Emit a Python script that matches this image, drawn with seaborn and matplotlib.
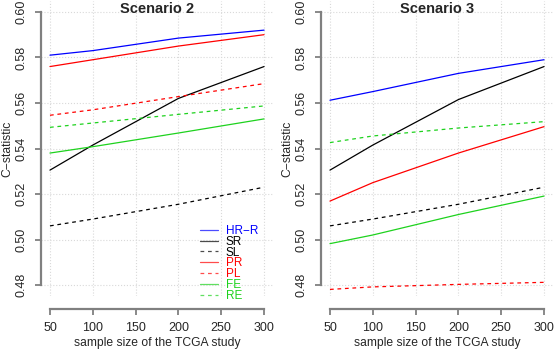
import matplotlib
matplotlib.use("Agg")
from matplotlib import pyplot as plt
import pandas as pd
import seaborn as sns

# sample sizes of the TCGA study
sizes = [50, 100, 200, 300]

# Scenario 2
s2_hrr = [0.581, 0.583, 0.5885, 0.592]
s2_sr = [0.5305, 0.5415, 0.562, 0.576]
s2_sl = [0.506, 0.509, 0.5155, 0.523]
s2_pr = [0.576, 0.579, 0.585, 0.590]
s2_pl = [0.5546, 0.557, 0.5628, 0.5685]
s2_fe = [0.538, 0.5408, 0.5468, 0.553]
s2_re = [0.5493, 0.5512, 0.555, 0.5587]

# Scenario 3
s3_hrr = [0.5612, 0.565, 0.573, 0.579]
s3_sr = [0.5305, 0.5415, 0.5615, 0.576]
s3_sl = [0.506, 0.509, 0.5155, 0.523]
s3_pr = [0.5169, 0.525, 0.538, 0.5496]
s3_pl = [0.4781, 0.4792, 0.4803, 0.4812]
s3_fe = [0.4982, 0.502, 0.511, 0.5191]
s3_re = [0.5426, 0.5455, 0.549, 0.5518]

labels = ["HR\u2212R", "SR", "SL", "PR", "PL", "FE", "RE"]
colors = ["#0000FF", "#000000", "#000000", "#FF0000", "#FF0000", "#1ED21E", "#1ED21E"]
dashed = [False, False, True, False, True, False, True]

yticks = [0.48, 0.50, 0.52, 0.54, 0.56, 0.58, 0.60]
xticks = [50, 100, 150, 200, 250, 300]

scenarios = {
    "Scenario 2": [s2_hrr, s2_sr, s2_sl, s2_pr, s2_pl, s2_fe, s2_re],
    "Scenario 3": [s3_hrr, s3_sr, s3_sl, s3_pr, s3_pl, s3_fe, s3_re],
}

sns.set_style("white")
plt.rcParams["font.family"] = ["Liberation Sans", "DejaVu Sans"]

fig = plt.figure(figsize=(5.6, 3.5), dpi=100)
W, H = 560, 350
lefts = [41.4, 321.4]
axes = [fig.add_axes([l / W, 54 / H, 231.2 / W, 295 / H]) for l in lefts]

for ax, (title, series) in zip(axes, scenarios.items()):
    # dotted grid like R's grid()
    for xv in xticks:
        ax.axvline(xv, color="#d9d9d9", lw=0.8, ls=":", zorder=0)
    for yv in yticks:
        ax.axhline(yv, color="#d9d9d9", lw=0.8, ls=":", zorder=0)

    for vals, lab, col, d in zip(series, labels, colors, dashed):
        df = pd.DataFrame({"n": sizes, "c": vals})
        line = sns.lineplot(data=df, x="n", y="c", ax=ax, color=col, lw=0.9, label=lab)
        if d:
            line.lines[-1].set_dashes((3, 3))

    ax.set_xlim(40, 310)
    ax.set_ylim(0.4752, 0.6048)
    ax.set_xticks(xticks)
    ax.set_yticks(yticks)
    ax.set_yticklabels([f"{v:.2f}" for v in yticks], rotation=90, va="center")
    ax.set_xlabel("sample size of the TCGA study", fontsize=8.7, labelpad=2)
    ax.set_ylabel("C\u2212statistic", fontsize=8.7, labelpad=1.5)
    ax.tick_params(axis="both", labelsize=9, length=4.3, width=1.3, color="#808080",
                   direction="out", left=True, bottom=True)
    ax.tick_params(axis="x", pad=5)
    ax.tick_params(axis="y", pad=6)
    for side in ["top", "right"]:
        ax.spines[side].set_visible(False)
    ax.spines["left"].set_bounds(0.48, 0.60)
    ax.spines["bottom"].set_bounds(50, 300)
    ax.spines["bottom"].set_position(("outward", 9.4))
    for side in ["left", "bottom"]:
        ax.spines[side].set_color("#808080")
        ax.spines[side].set_linewidth(1.6)
    ax.text(0.5, 0.972, title, transform=ax.transAxes, ha="center", va="center",
            fontsize=10.5, fontweight="bold")
    ax.get_legend().remove()

# legend inside left panel, bottom right
handles = axes[0].get_lines()
handles = [h for h in handles if h.get_label() in labels]
leg = axes[0].legend(handles, labels, loc="lower left", bbox_to_anchor=(0.686, -0.02),
                     frameon=False, fontsize=8.5, handlelength=1.5, handletextpad=0.7,
                     labelspacing=-0.1, borderpad=0, borderaxespad=0)
for txt, col in zip(leg.get_texts(), colors):
    txt.set_color(col)
for lh in leg.get_lines():
    lh.set_alpha(0.7)

fig.savefig("out.png", dpi=100)
